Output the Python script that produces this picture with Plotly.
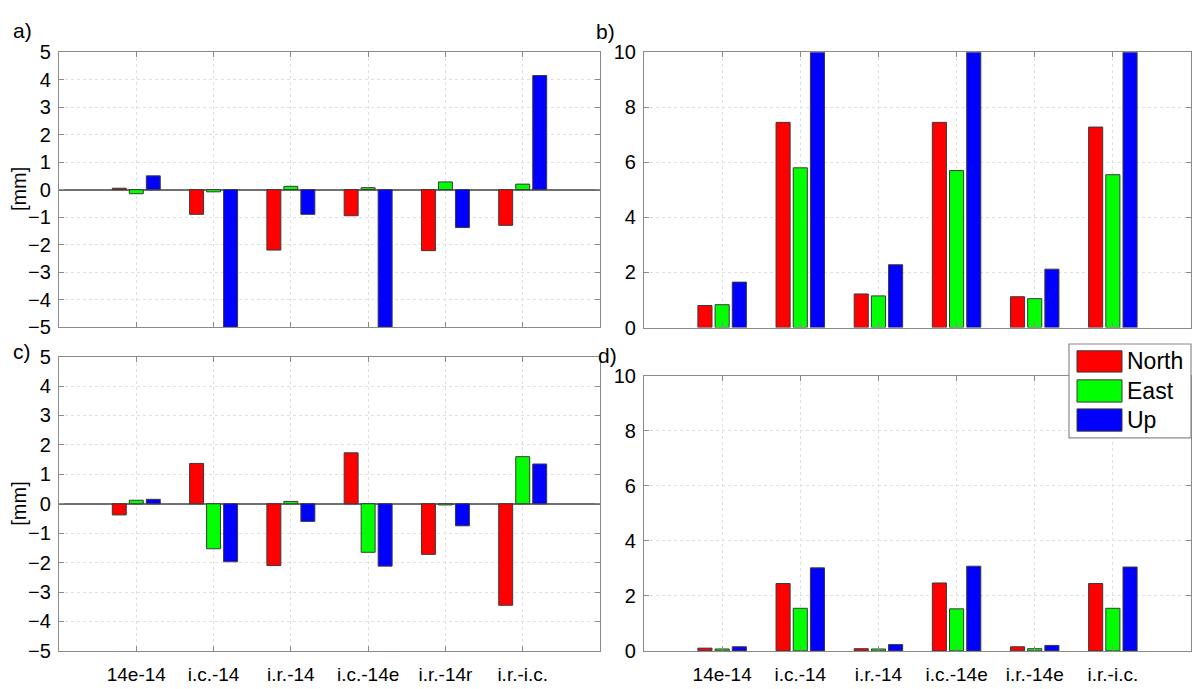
import plotly.graph_objects as go

W, H = 1194, 689

series_names = ["North", "East", "Up"]
series_colors = ["#FF0000", "#00FF00", "#0000FF"]
positions = [1, 2, 3, 4, 5, 6]

labels_c = ["14e-14", "i.c.-14", "i.r.-14", "i.c.-14e", "i.r.-14r", "i.r.-i.c."]
labels_d = ["14e-14", "i.c.-14", "i.r.-14", "i.c.-14e", "i.r.-14e", "i.r.-i.c."]

# panel a
a_north = [0.05, -0.90, -2.20, -0.95, -2.22, -1.30]
a_east = [-0.15, -0.08, 0.12, 0.07, 0.28, 0.20]
a_up = [0.50, -5.00, -0.90, -5.00, -1.38, 4.15]
# panel b
b_north = [0.80, 7.45, 1.22, 7.45, 1.12, 7.28]
b_east = [0.83, 5.80, 1.15, 5.70, 1.05, 5.55]
b_up = [1.65, 10.0, 2.28, 10.0, 2.12, 10.0]
# panel c
c_north = [-0.38, 1.37, -2.10, 1.73, -1.72, -3.45]
c_east = [0.12, -1.53, 0.08, -1.65, -0.04, 1.60]
c_up = [0.15, -1.97, -0.60, -2.12, -0.75, 1.35]
# panel d
d_north = [0.10, 2.45, 0.08, 2.47, 0.15, 2.45]
d_east = [0.07, 1.55, 0.07, 1.53, 0.08, 1.55]
d_up = [0.15, 3.02, 0.23, 3.08, 0.20, 3.05]

panels = [
    ("x", "y", [a_north, a_east, a_up]),
    ("x2", "y2", [b_north, b_east, b_up]),
    ("x3", "y3", [c_north, c_east, c_up]),
    ("x4", "y4", [d_north, d_east, d_up]),
]

fig = go.Figure()
for xa, ya, vals in panels:
    for name, color, v in zip(series_names, series_colors, vals):
        fig.add_trace(go.Bar(
            x=positions, y=v, name=name, xaxis=xa, yaxis=ya,
            marker=dict(color=color, line=dict(color="#3a3a3a", width=1)),
            showlegend=False,
        ))


def px(x):
    return x / W


def py(y):
    return 1 - y / H


FONT = "Liberation Sans, Arial, sans-serif"
axcol = "#8a8a8a"
gridcol = "#e0e0e0"


def xax(domain, anchor, ticktext):
    return dict(
        domain=domain, anchor=anchor, range=[0, 7],
        tickmode="array", tickvals=positions,
        ticktext=ticktext if ticktext else [""] * 6,
        showticklabels=bool(ticktext),
        ticks="inside", ticklen=5, tickcolor=axcol, tickwidth=1,
        showline=True, linecolor=axcol, linewidth=1.2, mirror="ticks",
        showgrid=True, gridcolor=gridcol, griddash="dot", gridwidth=1,
        zeroline=False, fixedrange=True, ticklabelstandoff=6,
        tickfont=dict(size=19, family=FONT, color="black"),
    )


def yax(domain, anchor, rng, dtick, zero):
    return dict(
        domain=domain, anchor=anchor, range=rng,
        tickmode="linear", tick0=rng[0], dtick=dtick,
        ticks="inside", ticklen=5, tickcolor=axcol, tickwidth=1,
        showline=True, linecolor=axcol, linewidth=1.2, mirror="ticks",
        showgrid=True, gridcolor=gridcol, griddash="dot", gridwidth=1,
        zeroline=zero, zerolinecolor="#707070", zerolinewidth=1.5,
        fixedrange=True, ticklabelstandoff=3,
        tickfont=dict(size=20, family=FONT, color="black"),
    )


xa_dom = [px(59), px(600)]
xb_dom = [px(644), px(1191)]
ya_dom = [py(326.5), py(42.5)]
yb_dom = [py(327), py(42.5)]
yc_dom = [py(661), py(357)]
yd_dom = [py(661), py(377)]

fig.update_layout(
    width=W, height=H,
    margin=dict(l=0, r=0, t=0, b=0),
    paper_bgcolor="white", plot_bgcolor="white",
    barmode="group", bargap=0.34, bargroupgap=0.18,
    showlegend=False,
    font=dict(family=FONT, size=19, color="black"),
    xaxis=xax(xa_dom, "y", None),
    yaxis=yax(ya_dom, "x", [-5, 5], 1, True),
    xaxis2=xax(xb_dom, "y2", None),
    yaxis2=yax(yb_dom, "x2", [0, 10], 2, False),
    xaxis3=xax(xa_dom, "y3", labels_c),
    yaxis3=yax(yc_dom, "x3", [-5, 5], 1, True),
    xaxis4=xax(xb_dom, "y4", labels_d),
    yaxis4=yax(yd_dom, "x4", [0, 10], 2, False),
)

annotations = []
for txt, x, y in [("a)", 11, 20), ("b)", 594, 21), ("c)", 11, 352), ("d)", 596, 356)]:
    annotations.append(dict(text=txt, x=px(x), y=py(y), xref="paper", yref="paper",
                            xanchor="left", yanchor="middle", showarrow=False,
                            font=dict(size=21, family=FONT, color="black")))
for yc in [184, 509]:
    annotations.append(dict(text="[mm]", x=px(19), y=py(yc), xref="paper", yref="paper",
                            xanchor="center", yanchor="middle", textangle=-90, showarrow=False,
                            font=dict(size=20, family=FONT, color="black")))

# custom legend (MATLAB style)
shapes = [dict(type="rect", xref="paper", yref="paper",
               x0=px(1069), x1=px(1191), y0=py(441), y1=py(344),
               fillcolor="white", line=dict(color="#8a8a8a", width=1.2), layer="above")]
rows = [(351, 373), (381, 404), (411, 434)]
for (y0, y1), name, color in zip(rows, series_names, series_colors):
    shapes.append(dict(type="rect", xref="paper", yref="paper",
                       x0=px(1077), x1=px(1122), y0=py(y1), y1=py(y0),
                       fillcolor=color, line=dict(color="#3a3a3a", width=1), layer="above"))
    annotations.append(dict(text=name, x=px(1125), y=py((y0 + y1) / 2), xref="paper", yref="paper",
                            xanchor="left", yanchor="middle", showarrow=False,
                            font=dict(size=23, family=FONT, color="black")))

fig.update_layout(annotations=annotations, shapes=shapes)

fig.write_html("out.html")
